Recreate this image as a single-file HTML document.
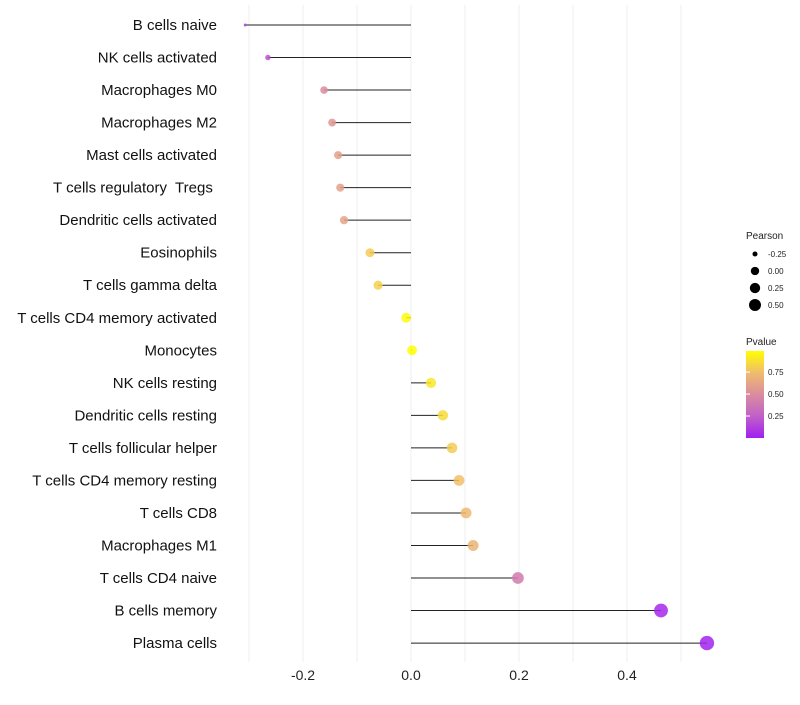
<!DOCTYPE html>
<html><head><meta charset="utf-8"><style>
body{margin:0;background:#fff;font-family:"Liberation Sans",sans-serif}
svg text{font-family:"Liberation Sans",sans-serif}
</style></head><body>
<svg id="chart" width="800" height="700">
<defs><linearGradient id="pg" x1="0" y1="1" x2="0" y2="0">
<stop offset="0" stop-color="#A020F0"/><stop offset="0.25" stop-color="#C060C8"/><stop offset="0.5" stop-color="#DA8C9E"/><stop offset="0.75" stop-color="#F0BC6E"/><stop offset="1" stop-color="#FFFF00"/></linearGradient></defs>
</svg>
<script>
const categories=["B cells naive","NK cells activated","Macrophages M0","Macrophages M2","Mast cells activated","T cells regulatory  Tregs ","Dendritic cells activated","Eosinophils","T cells gamma delta","T cells CD4 memory activated","Monocytes","NK cells resting","Dendritic cells resting","T cells follicular helper","T cells CD4 memory resting","T cells CD8","Macrophages M1","T cells CD4 naive","B cells memory","Plasma cells"];
const pearson=[-0.307,-0.265,-0.161,-0.146,-0.135,-0.131,-0.124,-0.076,-0.061,-0.009,0.002,0.037,0.059,0.076,0.089,0.102,0.115,0.198,0.463,0.548];
const pvalues=[0.12,0.2,0.5,0.55,0.6,0.6,0.62,0.8,0.82,0.97,0.99,0.9,0.86,0.8,0.76,0.72,0.7,0.4,0.03,0.01];
const xTicks=[-0.2,0,0.2,0.4];
const xTickLabels=["-0.2","0.0","0.2","0.4"];
const sizeBreaks=[-0.25,0,0.25,0.5];
const pBreaks=[0.25,0.5,0.75];

const svg=document.getElementById('chart');
const NS='http://www.w3.org/2000/svg';
function mk(t,a,p){const e=document.createElementNS(NS,t);for(const k in a)e.setAttribute(k,a[k]);(p||svg).appendChild(e);return e;}
const x=v=>411+v*540;
const y=i=>25+i*32.53;
const r=v=>1.5+5.7*Math.sqrt(Math.max(0,(v+0.307)/0.855));
const stops=[[0,[160,32,240]],[0.25,[192,96,200]],[0.5,[218,140,158]],[0.75,[240,188,110]],[1,[255,255,0]]];
function col(p){const t=Math.max(0,Math.min(1,p/0.99));for(let i=1;i<stops.length;i++){if(t<=stops[i][0]){const a=stops[i-1],b=stops[i],f=(t-a[0])/(b[0]-a[0]);return 'rgb('+a[1].map((c,j)=>Math.round(c+(b[1][j]-c)*f)).join(',')+')';}}return 'rgb(255,255,0)';}

for(let v=-0.3;v<=0.55;v+=0.1){const g=mk('line',{x1:x(v),x2:x(v),y1:5,y2:662,stroke:'#efefef','stroke-width':1});

}
xTicks.forEach((v,i)=>{const t=mk('text',{x:x(v),y:680,'text-anchor':'middle','font-size':14,fill:'#222'});t.textContent=xTickLabels[i];

});
categories.forEach((c,i)=>{
const l=mk('text',{x:217,y:y(i)+5,'text-anchor':'end','font-size':15,fill:'#111','xml:space':'preserve'});l.textContent=c;


l.style.whiteSpace='pre';
const s=mk('line',{x1:x(0),x2:x(pearson[i]),y1:y(i),y2:y(i),stroke:'#222','stroke-width':1});


const d=mk('circle',{cx:x(pearson[i]),cy:y(i),r:r(pearson[i]),fill:col(pvalues[i]),'fill-opacity':0.85});


});
let t=mk('text',{x:746,y:239,'font-size':10,fill:'#222'});t.textContent='Pearson';


sizeBreaks.forEach((v,i)=>{const cy=254+i*17;const c=mk('circle',{cx:755,cy:cy,r:r(v)*0.85,fill:'#000'});


const tt=mk('text',{x:768,y:cy+3,'font-size':8,fill:'#222'});tt.textContent=v.toFixed(2);

});
t=mk('text',{x:746,y:345,'font-size':10,fill:'#222'});t.textContent='Pvalue';


const bar=mk('rect',{x:746,y:351,width:18,height:87,fill:'url(#pg)'});


pBreaks.forEach(p=>{const yy=438-p/0.99*87;
const tk=mk('line',{x1:746,x2:750,y1:yy,y2:yy,stroke:'#fff'});


const tt=mk('text',{x:768,y:yy+3,'font-size':8,fill:'#222'});tt.textContent=p.toFixed(2);

});
</script>
</body></html>
